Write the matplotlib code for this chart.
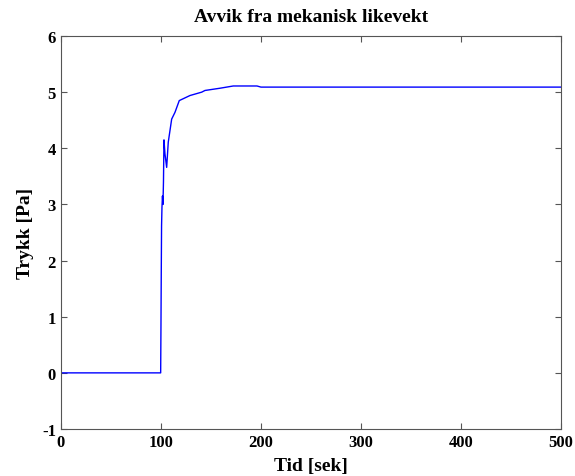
import matplotlib
matplotlib.use("Agg")
import matplotlib.pyplot as plt

# Trykkavvik over tid
tid = [0, 99.7, 100.0, 100.3, 100.6, 101.0, 101.5, 102.0, 102.5, 103.0, 104.0,
       105.7, 107.3, 110.7, 114.0, 118.3, 129.0, 140.7, 144.0, 159.0, 172.3,
       196.0, 200.0, 500.0]
trykk = [0.0, 0.0, 0.84, 1.8, 2.62, 2.95, 3.15, 3.0, 3.4, 4.15, 3.9,
         3.66, 4.11, 4.52, 4.64, 4.85, 4.94, 5.0, 5.03, 5.07, 5.11,
         5.11, 5.09, 5.09]

x_ticks = [0, 100, 200, 300, 400, 500]
y_ticks = [-1, 0, 1, 2, 3, 4, 5, 6]

plt.rcParams["font.family"] = ["Liberation Serif", "DejaVu Serif"]
plt.rcParams["font.weight"] = "bold"
plt.rcParams["axes.unicode_minus"] = False

fig = plt.figure(figsize=(5.75, 4.77), dpi=100)
ax = fig.add_axes([0.106, 0.0985, 0.8697, 0.8239])

ax.plot(tid, trykk, color="#0000ff", linewidth=1.0)

ax.set_xlim(0, 500)
ax.set_ylim(-1, 6)
ax.set_xticks(x_ticks)
ax.set_yticks(y_ticks)
ax.tick_params(direction="in", top=True, right=True, length=4,
               labelsize=12, color="#555555", width=0.8)
for lbl in ax.get_xticklabels() + ax.get_yticklabels():
    lbl.set_fontweight("bold")
for sp in ax.spines.values():
    sp.set_color("#555555")
    sp.set_linewidth(0.8)

ax.set_title("Avvik fra mekanisk likevekt", fontsize=14, fontweight="bold", pad=11)
ax.set_xlabel("Tid [sek]", fontsize=14, fontweight="bold", labelpad=5)
ax.set_ylabel("Trykk [Pa]", fontsize=14, fontweight="bold", labelpad=6)

fig.savefig("out.png", dpi=100, facecolor="white")
